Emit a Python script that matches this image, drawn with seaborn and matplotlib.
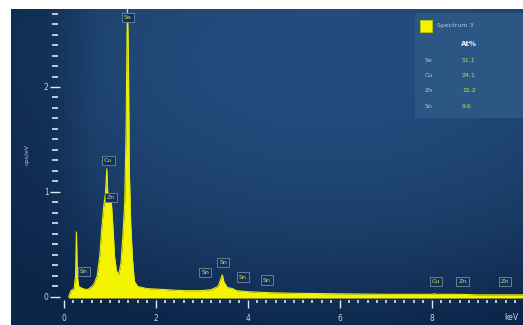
import numpy as np
import pandas as pd
import seaborn as sns
import matplotlib.pyplot as plt
from matplotlib.ticker import MultipleLocator
from matplotlib.patches import Rectangle

# spectrum (keV, cps/eV)
energy = [0.10, 0.15, 0.22, 0.25, 0.27, 0.29, 0.32, 0.40, 0.50, 0.58, 0.65, 0.72, 0.78,
          0.82, 0.86, 0.90, 0.93, 0.95, 0.99, 1.03, 1.07, 1.10, 1.14, 1.19, 1.24, 1.28,
          1.32, 1.35, 1.37, 1.38, 1.40, 1.42, 1.45, 1.49, 1.53, 1.60, 1.80, 2.20, 2.60,
          3.00, 3.20, 3.35, 3.40, 3.44, 3.48, 3.55, 3.66, 3.75, 4.00, 4.50, 5.00, 6.00,
          7.00, 8.00, 8.05, 8.10, 8.60, 9.00, 9.98]
counts = [0.00, 0.06, 0.08, 0.20, 0.62, 0.20, 0.10, 0.08, 0.07, 0.09, 0.12, 0.20, 0.40,
          0.65, 0.85, 0.98, 1.22, 1.00, 0.95, 0.90, 0.62, 0.38, 0.25, 0.21, 0.33, 0.58,
          0.90, 1.60, 2.50, 2.74, 2.30, 1.20, 0.70, 0.35, 0.15, 0.10, 0.08, 0.07, 0.06,
          0.06, 0.07, 0.10, 0.16, 0.21, 0.14, 0.09, 0.08, 0.06, 0.05, 0.04, 0.035, 0.03,
          0.025, 0.025, 0.03, 0.025, 0.025, 0.02, 0.02]

peak_names = ["Se", "Cu", "Zn", "Sn", "Sn", "Sn", "Sn", "Sn", "Cu", "Zn", "Zn"]
peak_x = [1.39, 0.96, 1.02, 0.43, 3.07, 3.46, 3.89, 4.41, 8.09, 8.67, 9.59]
peak_y = [2.66, 1.30, 0.95, 0.24, 0.23, 0.33, 0.19, 0.16, 0.15, 0.15, 0.15]

elements = ["Se", "Cu", "Zn", "Sn"]
at_pct = ["51.1", "24.1", "15.2", "9.6"]

df = pd.DataFrame({"keV": energy, "cps": counts})

sns.set_theme(style="dark")
W, H = 523, 325
fig = plt.figure(figsize=(W / 100, H / 100), dpi=100, facecolor="white")

# background gradient panel
bg = fig.add_axes([11 / W, 0, (W - 11) / W, (H - 9) / H])
gx, gy = np.meshgrid(np.linspace(0, 1, 200), np.linspace(0, 1, 120))
f = np.clip(1 - 1.1 * (gx - 0.62) ** 2 - 1.3 * (gy - 0.15) ** 2, 0, 1)
f = f * np.clip(gx * 6, 0.35, 1)
dark = np.array([0.05, 0.15, 0.29])
light = np.array([0.14, 0.30, 0.49])
img = dark + (light - dark) * f[..., None]
bg.imshow(img, aspect="auto", extent=(0, 1, 1, 0))
bg.set_axis_off()

# spectrum axes
ax = fig.add_axes([55 / W, 25 / H, (W - 55) / W, 291 / H])
ax.set_facecolor("none")
ax.fill_between(df["keV"], df["cps"], -0.01, color="#f4f400", lw=0)
sns.lineplot(data=df, x="keV", y="cps", ax=ax, color="#e6ea10", lw=0.8)
ax.set_xlim(-0.196, 9.98)
ax.set_ylim(-0.029, 2.743)
for s in ax.spines.values():
    s.set_visible(False)
ax.grid(False)
ax.set_xlabel("")
ax.set_ylabel("cps/eV", color="#b8c6dc", fontsize=4.5, labelpad=10)

ax.xaxis.set_major_locator(MultipleLocator(2))
ax.xaxis.set_minor_locator(MultipleLocator(0.2))
ax.yaxis.set_major_locator(MultipleLocator(1))
ax.yaxis.set_minor_locator(MultipleLocator(0.1))
ax.tick_params(axis="x", which="major", direction="out", length=6, width=1,
               color="#dfe6f0", labelcolor="#c8d2e2", labelsize=5.5, pad=4, bottom=True)
ax.tick_params(axis="x", which="minor", direction="out", length=2.5, width=1.2,
               color="#dfe6f0", bottom=True)
ax.tick_params(axis="y", which="major", direction="inout", length=7, width=1,
               color="#dfe6f0", labelcolor="#c8d2e2", labelsize=5.5, pad=1, left=True)
ax.tick_params(axis="y", which="minor", direction="inout", length=4, width=1.2,
               color="#dfe6f0", left=True)
ax.text(9.58, -0.20, "keV", color="#c8d2e2", fontsize=5.5, va="center",
        ha="left", clip_on=False)

for name, x, y in zip(peak_names, peak_x, peak_y):
    ax.text(x, y, name, color="#d6df50", fontsize=4.5, ha="center", va="center",
            bbox=dict(boxstyle="square,pad=0.35", fc="#12305a", ec="#6f8aa8", lw=0.6))

# element table panel
lg = fig.add_axes([415 / W, (H - 118) / H, 108 / W, 105 / H])
lg.set_facecolor("#2c5784")
lg.set_xlim(415, 523)
lg.set_ylim(118, 13)
lg.set_xticks([])
lg.set_yticks([])
for s in lg.spines.values():
    s.set_visible(False)
lg.add_patch(Rectangle((420, 20), 12, 12, fc="#f4f400", ec="#c8c800", lw=0.5))
lg.text(437, 26, "Spectrum 3", color="#b8c6dc", fontsize=4.5, va="center")
lg.text(461, 44, "At%", color="#eef2f8", fontsize=5, va="center", fontweight="bold")
for i, (el, v) in enumerate(zip(elements, at_pct)):
    yy = 60 + 15.5 * i
    lg.text(425, yy, el, color="#b8c6dc", fontsize=4.5, va="center")
    lg.text(462, yy, v, color="#c8dc40", fontsize=4.5, va="center")

fig.savefig("out.png", dpi=100, facecolor="white")
